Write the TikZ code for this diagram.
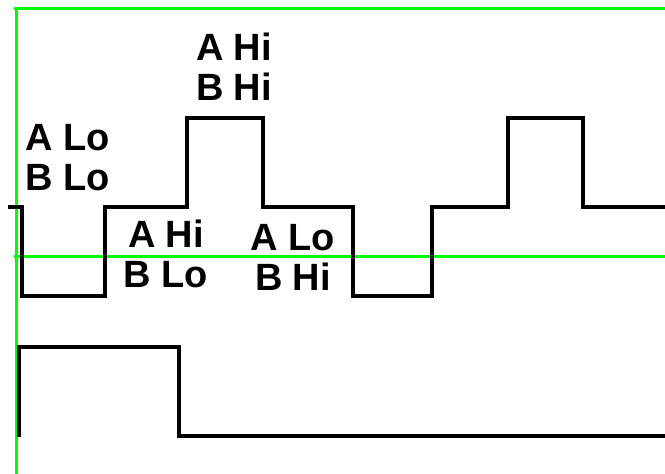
\documentclass[tikz,border=0pt]{standalone}
\usepackage{fontspec}
\setmainfont{Liberation Sans}
\begin{document}
\begin{tikzpicture}[x=1pt,y=-1pt,
  grid/.style={draw={rgb,255:red,0;green,255;blue,0},line width=3pt},
  wave/.style={draw=black,line width=4pt,line join=miter,line cap=butt},
  lbl/.style={inner sep=0pt,align=center,font=\bfseries\fontsize{38}{40}\selectfont}]
\useasboundingbox (0,0) rectangle (665,474);
% green guide lines
\draw[grid] (14,8) -- (665,8);
\draw[grid] (16,8) -- (16,474);
\draw[grid] (14,256) -- (665,256);
% upper waveform
\draw[wave] (8,207) -- (22,207) -- (22,296) -- (105,296) -- (105,207) -- (187,207)
  -- (187,118) -- (263,118) -- (263,207) -- (353,207) -- (353,296) -- (432,296)
  -- (432,207) -- (508,207) -- (508,118) -- (583,118) -- (583,207) -- (665,207);
% lower waveform
\draw[wave] (19,437) -- (19,347) -- (179,347) -- (179,436) -- (665,436);
% labels
\node[lbl] (hh) at (234,67) {A Hi\\B Hi};
\node[lbl] (ll) at (68,158) {A Lo\\B Lo};
\node[lbl] (hl) at (166,254) {A Hi\\B Lo};
\node[lbl] (lh) at (293,257) {A Lo\\B Hi};
\end{tikzpicture}
\end{document}
